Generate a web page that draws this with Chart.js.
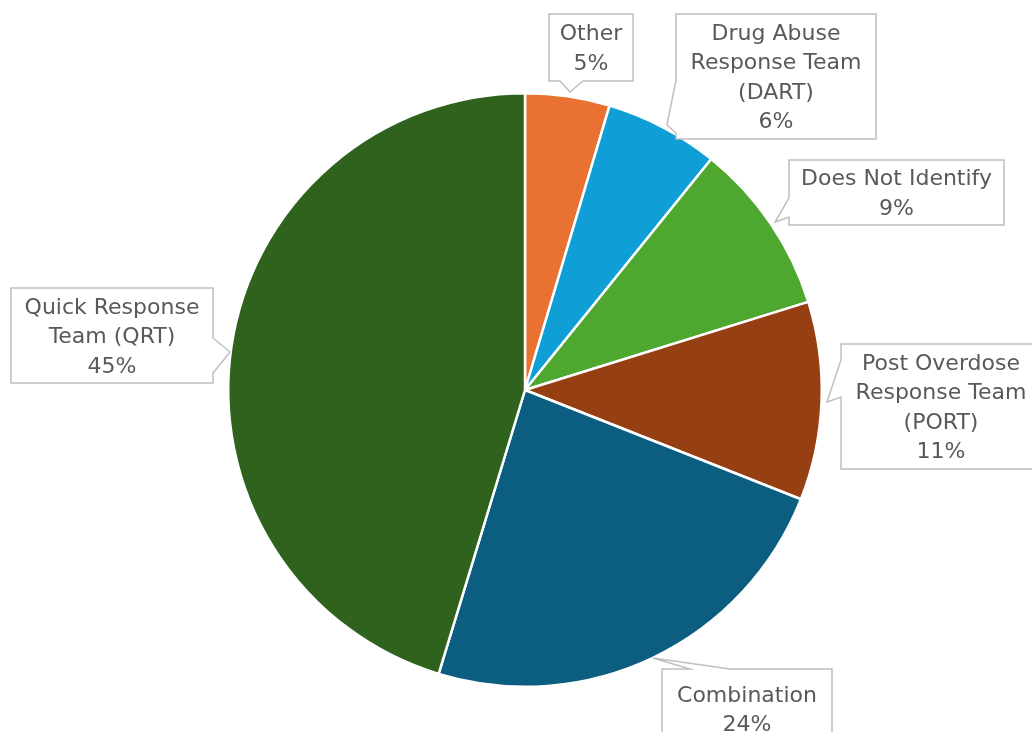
<!DOCTYPE html>
<html>
<head>
<meta charset="utf-8">
<script src="https://cdn.jsdelivr.net/npm/chart.js@4/dist/chart.umd.min.js"></script>
<style>
  html, body { margin: 0; padding: 0; background: #fff; }
  .chart-box { width: 1032px; height: 732px; position: relative; }
</style>
</head>
<body>
<div class="chart-box"><canvas id="teamChart"></canvas></div>
<script>
// Categories (split into the lines shown on each callout) and shares
const categories = [
    ['Other'],
    ['Drug Abuse', 'Response Team', '(DART)'],
    ['Does Not Identify'],
    ['Post Overdose', 'Response Team', '(PORT)'],
    ['Combination'],
    ['Quick Response', 'Team (QRT)']
];
const shares = [4.6, 6.2, 9.4, 10.8, 23.7, 45.3];
const sliceColors = ['#E97132', '#0F9ED5', '#4EA72E', '#953F12', '#0B5E80', '#2F631D'];

// Callout boxes: rectangle, side the pointer leaves from, pointer base offsets, pointer tip
const callouts = [
    { x: 549, y: 14, w: 84, h: 67, side: 'bottom', a1: 11, a2: 34, tip: [570, 92] },
    { x: 676, y: 14, w: 200, h: 125, side: 'left', a1: 66, a2: 119, tip: [667, 125] },
    { x: 789, y: 160, w: 215, h: 65, side: 'left', a1: 38, a2: 57, tip: [775, 222] },
    { x: 841, y: 344, w: 200, h: 125, side: 'left', a1: 16, a2: 53, tip: [827, 402] },
    { x: 662, y: 669, w: 170, h: 80, side: 'top', a1: 28, a2: 68, tip: [653, 658] },
    { x: 11, y: 288, w: 202, h: 95, side: 'right', a1: 50, a2: 85, tip: [230, 352] }
];

// Draw the callout labels on top of the pie
const calloutPlugin = {
    id: 'callouts',
    afterDraw(chart) {
        const ctx = chart.ctx;
        const values = chart.data.datasets[0].data;
        const total = values.reduce((a, b) => a + b, 0);
        ctx.save();
        callouts.forEach((c, i) => {
            const { x, y, w, h, side, a1, a2, tip } = c;
            ctx.beginPath();
            ctx.moveTo(x, y);
            if (side === 'top') { ctx.lineTo(x + a1, y); ctx.lineTo(tip[0], tip[1]); ctx.lineTo(x + a2, y); }
            ctx.lineTo(x + w, y);
            if (side === 'right') { ctx.lineTo(x + w, y + a1); ctx.lineTo(tip[0], tip[1]); ctx.lineTo(x + w, y + a2); }
            ctx.lineTo(x + w, y + h);
            if (side === 'bottom') { ctx.lineTo(x + a2, y + h); ctx.lineTo(tip[0], tip[1]); ctx.lineTo(x + a1, y + h); }
            ctx.lineTo(x, y + h);
            if (side === 'left') { ctx.lineTo(x, y + a2); ctx.lineTo(tip[0], tip[1]); ctx.lineTo(x, y + a1); }
            ctx.closePath();
            ctx.fillStyle = '#ffffff';
            ctx.fill();
            ctx.lineWidth = 1.5;
            ctx.strokeStyle = '#bfbfbf';
            ctx.stroke();

            const lines = chart.data.labels[i].concat([Math.round(values[i] / total * 100) + '%']);
            const lineH = 29.5;
            ctx.fillStyle = '#595959';
            ctx.font = '22px "DejaVu Sans", sans-serif';
            ctx.textAlign = 'center';
            ctx.textBaseline = 'middle';
            const top = y + h / 2 + 2 - (lines.length - 1) * lineH / 2;
            lines.forEach((line, k) => ctx.fillText(line, x + w / 2, top + k * lineH));
        });
        ctx.restore();
    }
};

new Chart(document.getElementById('teamChart').getContext('2d'), {
    type: 'pie',
    data: {
        labels: categories,
        datasets: [{
            data: shares,
            backgroundColor: sliceColors,
            borderColor: '#ffffff',
            borderWidth: 2.5
        }]
    },
    options: {
        responsive: true,
        maintainAspectRatio: false,
        animation: false,
        layout: { padding: { top: 92, bottom: 44, left: 227, right: 209 } },
        plugins: {
            legend: { display: false },
            tooltip: { enabled: false }
        }
    },
    plugins: [calloutPlugin]
});
</script>
</body>
</html>
